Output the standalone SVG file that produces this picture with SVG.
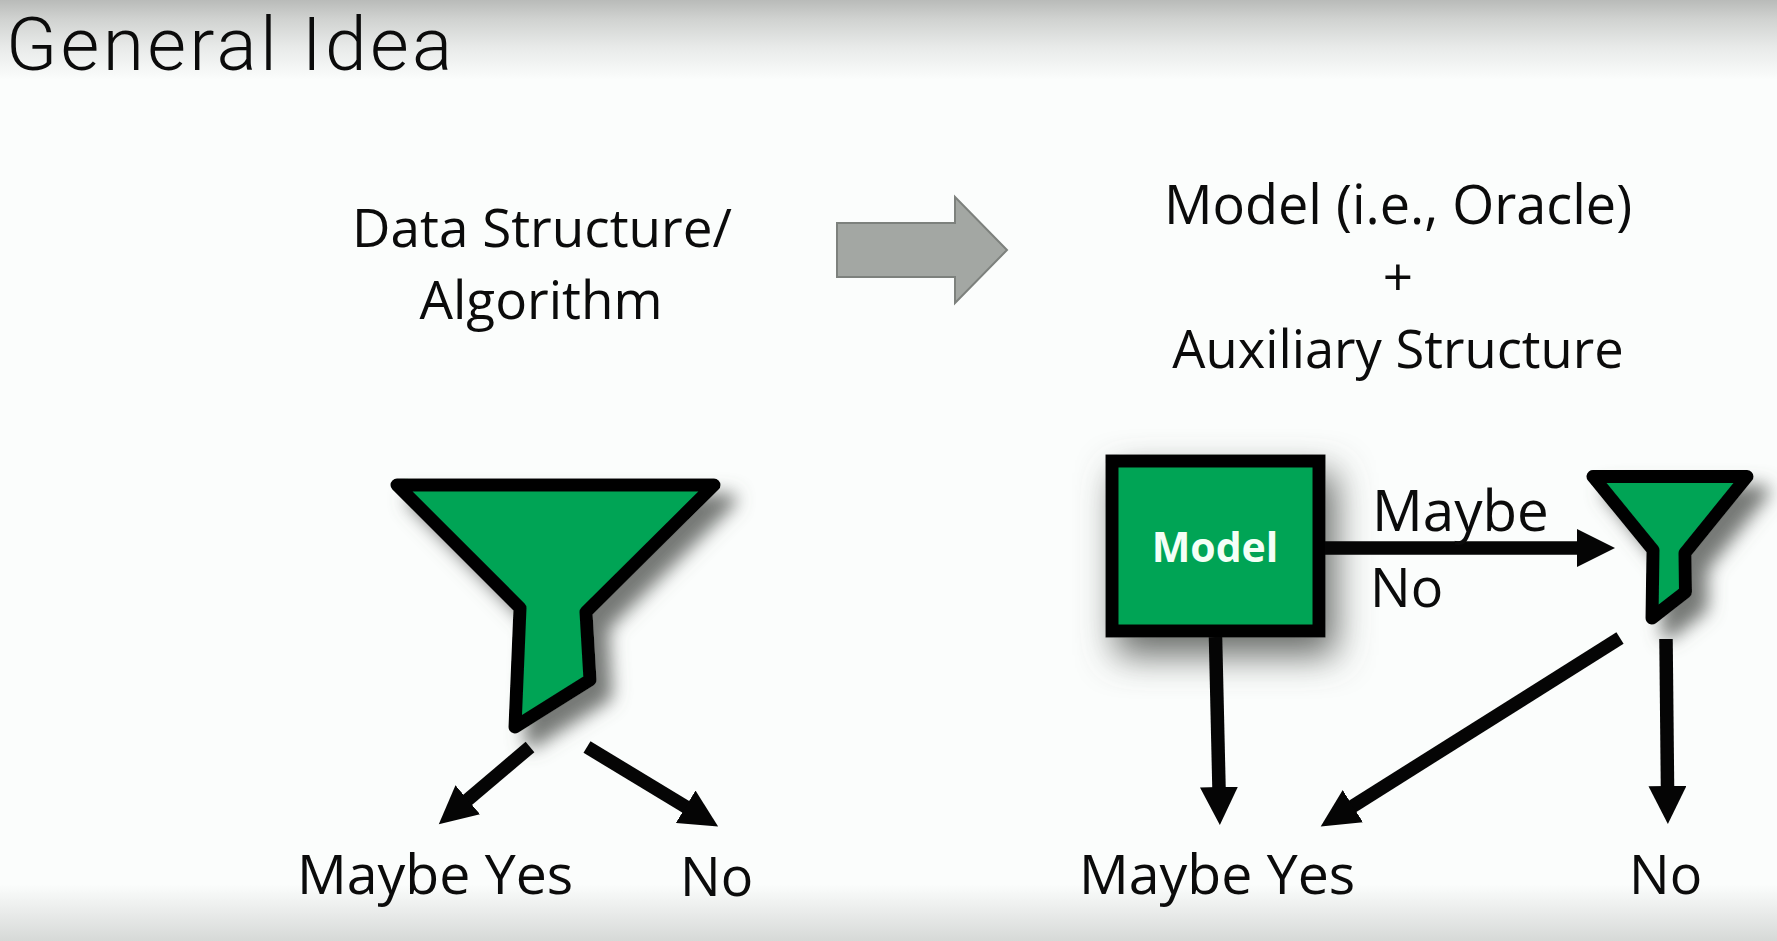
<svg xmlns="http://www.w3.org/2000/svg" width="1777" height="941" viewBox="0 0 1777 941">
<style>
text{font-family:"Open Sans","Noto Sans","Liberation Sans",sans-serif;fill:#0b0b0b;font-size:53px}
.title{font-family:Roboto,"Open Sans",sans-serif;font-size:75px;font-weight:300;letter-spacing:3.300px}
.m{text-anchor:middle}
.big{font-size:54px}
.low{font-size:55.400px}
.aux{font-size:52.500px}
.maybe{font-size:56.500px}
.box{font-weight:700;font-size:41px;fill:#f4fff6;text-anchor:middle}
.shape{fill:#00a455;stroke:#050505;stroke-width:13;stroke-linejoin:round}
.square{stroke-linejoin:miter}
.conn{stroke:#050505;stroke-width:13.500;fill:none;marker-end:url(#head)}
</style>
<defs>
<linearGradient id="bg" x1="0" y1="0" x2="0" y2="1">
<stop offset="0" stop-color="#b9bbb9"/><stop offset="0.02" stop-color="#d0d2d0"/><stop offset="0.05" stop-color="#e8eae9"/><stop offset="0.085" stop-color="#fbfdfc"/><stop offset="0.94" stop-color="#fbfdfc"/><stop offset="0.97" stop-color="#e9ebea"/><stop offset="1" stop-color="#d6d9d7"/>
</linearGradient>
<marker id="head" markerUnits="userSpaceOnUse" markerWidth="39" markerHeight="38" viewBox="0 -19 39 38" refX="1" refY="0" orient="auto"><path d="M0-19L38 0L0 19Z" fill="#050505"/></marker>
<filter id="sh" x="-30%" y="-30%" width="170%" height="170%"><feDropShadow dx="16" dy="15" stdDeviation="9" flood-color="#666a66" flood-opacity="0.9"/></filter>
<filter id="shBox" x="-30%" y="-30%" width="170%" height="170%"><feDropShadow dx="10" dy="18" stdDeviation="18" flood-color="#5f635f" flood-opacity="0.95"/></filter>
</defs>
<rect id="background" width="1777" height="941" fill="url(#bg)"/>
<g id="title"><text class="title" x="6" y="70">General Idea</text></g>
<g id="label-data-structure"><text class="m" x="542" y="247">Data Structure/</text><text class="m" x="541" y="319">Algorithm</text></g>
<g id="label-model-oracle"><text class="m big" x="1398" y="224">Model (i.e., Oracle)</text><text class="m" x="1398" y="296">+</text><text class="m aux" x="1398" y="368">Auxiliary Structure</text></g>
<g id="transform-arrow"><path d="M837 223H955V197L1007 250L955 303V277H837Z" fill="#a3a7a3" stroke="#7d817d" stroke-width="2"/></g>
<g id="funnel-large"><path class="shape" filter="url(#sh)" d="M397 485H714L586 612L590 680L515 727L520 608Z"/></g>
<g id="model"><rect class="shape square" filter="url(#shBox)" x="1112" y="461" width="207" height="170"/><text class="box" x="1215" y="562">Model</text></g>
<g id="funnel-small"><path class="shape" filter="url(#sh)" d="M1593 476.500H1747L1685 553L1685.500 592L1652 618L1653 550Z"/></g>
<g id="connectors">
<line class="conn" x1="530" y1="747" x2="467" y2="800.400"/>
<line class="conn" x1="587" y1="747" x2="686.500" y2="807.300"/>
<line class="conn" x1="1325" y1="548" x2="1578" y2="548"/>
<line class="conn" x1="1215.500" y1="637" x2="1219" y2="788"/>
<line class="conn" x1="1620" y1="638" x2="1352" y2="806.700"/>
<line class="conn" x1="1666" y1="639" x2="1667.500" y2="787"/>
</g>
<g id="label-maybe-yes-left"><text class="low" x="297" y="894">Maybe Yes</text></g>
<g id="label-no-left"><text class="big" x="680" y="896">No</text></g>
<g id="label-maybe"><text class="maybe" x="1372" y="531">Maybe</text></g>
<g id="label-no-mid"><text class="big" x="1370" y="607">No</text></g>
<g id="label-maybe-yes-right"><text class="low" x="1079" y="894">Maybe Yes</text></g>
<g id="label-no-right"><text class="big" x="1629" y="894">No</text></g>
</svg>
